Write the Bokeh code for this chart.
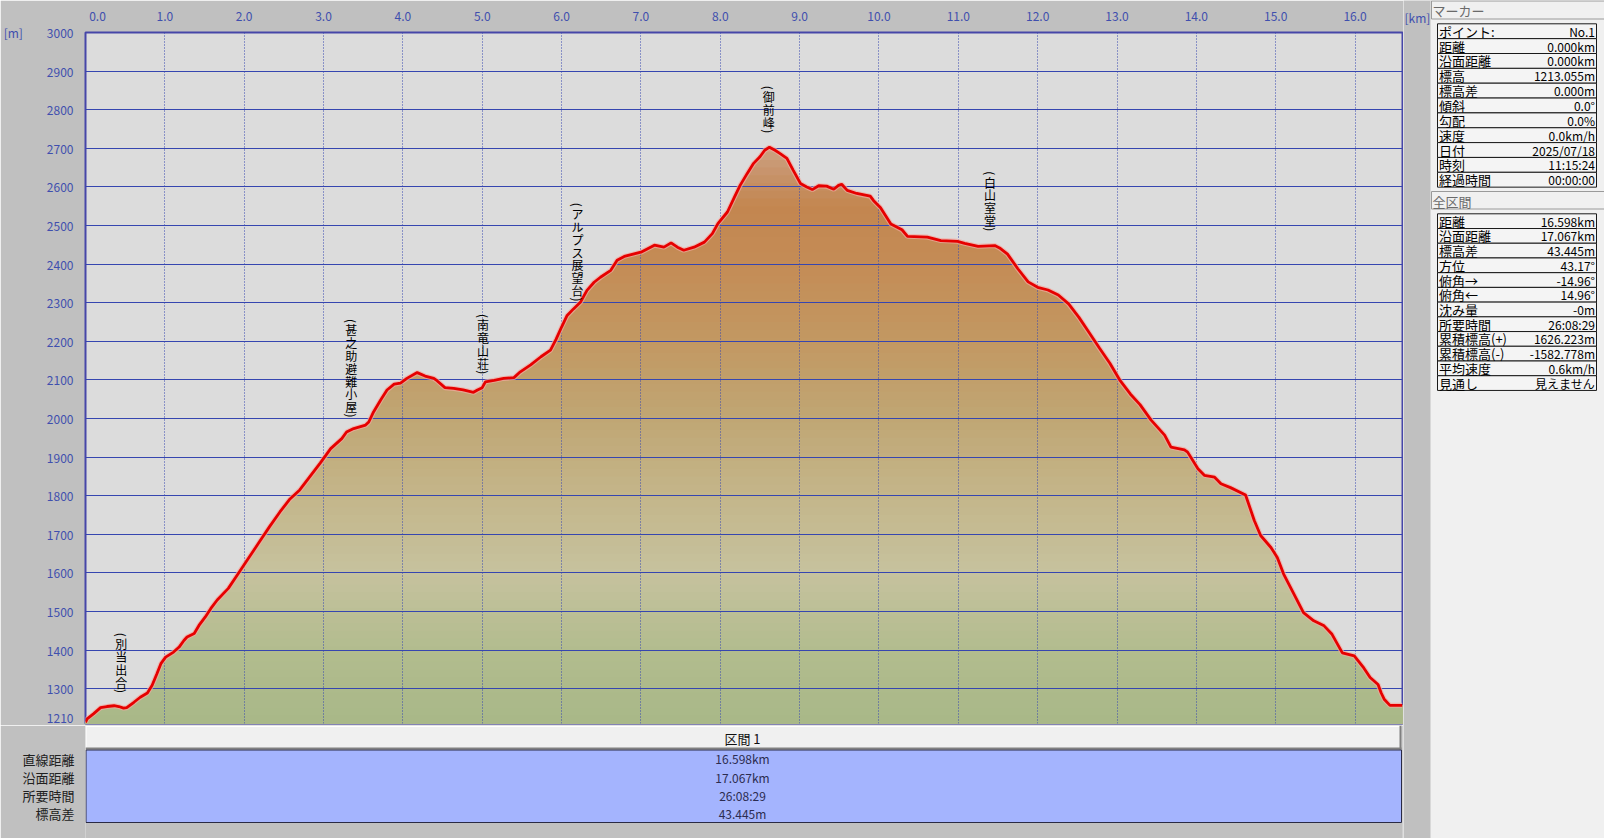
import numpy as np
from bokeh.plotting import figure
from bokeh.models import Range1d, FixedTicker, PrintfTickFormatter
from bokeh.layouts import row, column
from bokeh.embed import file_html
from bokeh.resources import INLINE
from bokeh.core.properties import value

# ---------------- data ----------------
dist_km = [0.00, 0.02, 0.10, 0.19, 0.27, 0.36, 0.42, 0.48, 0.52, 0.61, 0.69, 0.78, 0.84, 0.90,
           0.95, 1.01, 1.11, 1.18, 1.24, 1.28, 1.37, 1.43, 1.51, 1.58, 1.66, 1.80, 1.93, 2.06,
           2.19, 2.32, 2.45, 2.57, 2.70, 2.83, 2.96, 3.09, 3.23, 3.29, 3.38, 3.53, 3.57, 3.63,
           3.72, 3.80, 3.89, 3.97, 4.05, 4.18, 4.28, 4.39, 4.43, 4.53, 4.64, 4.76, 4.89, 4.94,
           5.00, 5.04, 5.15, 5.27, 5.40, 5.48, 5.61, 5.74, 5.86, 5.93, 6.00, 6.07, 6.15, 6.24,
           6.32, 6.41, 6.49, 6.62, 6.70, 6.79, 7.00, 7.17, 7.29, 7.38, 7.46, 7.54, 7.67, 7.80,
           7.90, 7.97, 8.09, 8.18, 8.25, 8.34, 8.42, 8.50, 8.56, 8.62, 8.69, 8.75, 8.84, 8.92,
           9.01, 9.09, 9.16, 9.24, 9.34, 9.43, 9.49, 9.53, 9.60, 9.72, 9.89, 9.93, 10.02, 10.15,
           10.29, 10.36, 10.61, 10.78, 10.99, 11.08, 11.25, 11.46, 11.52, 11.62, 11.75, 11.88,
           12.00, 12.13, 12.26, 12.39, 12.52, 12.65, 12.78, 12.91, 13.04, 13.17, 13.29, 13.43,
           13.60, 13.68, 13.85, 13.89, 14.02, 14.10, 14.23, 14.31, 14.43, 14.62, 14.73, 14.81,
           14.94, 15.02, 15.10, 15.23, 15.35, 15.48, 15.61, 15.71, 15.84, 15.99, 16.11, 16.19,
           16.29, 16.33, 16.37, 16.44, 16.598]
elev_m = [1213, 1222, 1235, 1251, 1254, 1256, 1254, 1250, 1251, 1265, 1278, 1289, 1309, 1339,
          1365, 1382, 1395, 1408, 1425, 1434, 1443, 1464, 1486, 1508, 1530, 1560, 1600, 1640,
          1680, 1720, 1758, 1790, 1815, 1850, 1885, 1922, 1948, 1965, 1974, 1983, 1991, 2017,
          2048, 2074, 2089, 2092, 2104, 2119, 2110, 2104, 2098, 2080, 2078, 2074, 2068, 2074,
          2080, 2095, 2099, 2104, 2106, 2121, 2139, 2160, 2177, 2205, 2237, 2267, 2284, 2302,
          2332, 2353, 2366, 2384, 2410, 2420, 2431, 2449, 2444, 2455, 2444, 2436, 2444, 2457,
          2479, 2505, 2535, 2574, 2604, 2635, 2661, 2678, 2695, 2703, 2695, 2687, 2674, 2643,
          2609, 2600, 2593, 2603, 2602, 2594, 2604, 2607, 2591, 2583, 2576, 2565, 2546, 2504,
          2489, 2472, 2470, 2461, 2459, 2454, 2446, 2448, 2442, 2426, 2388, 2354,
          2340, 2333, 2320, 2297, 2262, 2222, 2182, 2143, 2098, 2063, 2036, 1996,
          1957, 1926, 1919, 1913, 1870, 1853, 1848, 1831, 1821, 1802, 1736, 1697,
          1666, 1640, 1597, 1545, 1497, 1476, 1463, 1441, 1393, 1385, 1354, 1329,
          1311, 1289, 1272, 1257, 1257]

place_names = ["別当出合", "甚之助避難小屋", "南竜山荘", "アルプス展望台", "御前峰", "白山室堂"]
place_km = [0.45, 3.35, 5.01, 6.20, 8.61, 11.40]
place_top_m = [1446, 2259, 2272, 2560, 2863, 2642]

x_ticks = [0, 1, 2, 3, 4, 5, 6, 7, 8, 9, 10, 11, 12, 13, 14, 15, 16]
y_ticks = [1210, 1300, 1400, 1500, 1600, 1700, 1800, 1900, 2000, 2100, 2200, 2300, 2400,
           2500, 2600, 2700, 2800, 2900, 3000]
x_unit = "[km]"
y_unit = "[m]"

marker_labels = ["ポイント:", "距離", "沿面距離", "標高", "標高差", "傾斜", "勾配", "速度",
                 "日付", "時刻", "経過時間"]
marker_values = ["No.1", "0.000km", "0.000km", "1213.055m", "0.000m", "0.0°", "0.0%",
                 "0.0km/h", "2025/07/18", "11:15:24", "00:00:00"]
total_labels = ["距離", "沿面距離", "標高差", "方位", "俯角→", "俯角←", "沈み量", "所要時間",
                "累積標高(+)", "累積標高(-)", "平均速度", "見通し"]
total_values = ["16.598km", "17.067km", "43.445m", "43.17°", "-14.96°", "14.96°", "-0m",
                "26:08:29", "1626.223m", "-1582.778m", "0.6km/h", "見えません"]

section_title = "区間 1"
section_labels = ["直線距離", "沿面距離", "所要時間", "標高差"]
section_values = ["16.598km", "17.067km", "26:08:29", "43.445m"]

# ---------------- style ----------------
JP = "Noto Sans CJK JP"
BLUE_TXT = "#3f4fae"
GRID = "#3646b0"
IS = "\u3000"  # ideographic space used as padding

grad_m = [1210, 1400, 1600, 1800, 2000, 2200, 2400, 2550, 2650, 2720]
grad_rgb = [(168, 184, 136), (178, 188, 142), (198, 194, 158), (196, 182, 138),
            (192, 166, 116), (194, 152, 98), (196, 140, 86), (195, 134, 80),
            (200, 150, 112), (208, 168, 140)]


def grad_color(m):
    r = np.interp(m, grad_m, [c[0] for c in grad_rgb])
    g = np.interp(m, grad_m, [c[1] for c in grad_rgb])
    b = np.interp(m, grad_m, [c[2] for c in grad_rgb])
    return "#%02x%02x%02x" % (int(round(r)), int(round(g)), int(round(b)))


MAIN_W, MAIN_H = 1403, 725
BL, BR = 85, 1

# ---------------- main chart ----------------
p = figure(width=MAIN_W, height=MAIN_H, x_range=Range1d(0, 16.598), y_range=Range1d(1210, 3000),
           x_axis_location="above", toolbar_location=None, output_backend="svg",
           min_border_left=BL, min_border_right=BR, min_border_top=32, min_border_bottom=2,
           background_fill_color="#dcdcdc", border_fill_color="#c0c0c0",
           outline_line_color="#4646a8", outline_line_width=2)

p.xaxis.ticker = FixedTicker(ticks=x_ticks)
p.xaxis.formatter = PrintfTickFormatter(format="%.1f")
p.xaxis.major_label_overrides = {0: IS * 2 + "0.0"}
p.yaxis.ticker = FixedTicker(ticks=y_ticks)
p.yaxis.major_label_overrides = {3000: y_unit + IS * 2 + "3000"}
for ax in (p.xaxis[0], p.yaxis[0]):
    ax.axis_line_color = None
    ax.major_tick_line_color = None
    ax.minor_tick_line_color = None
    ax.major_tick_out = 0
    ax.major_tick_in = 0
    ax.major_label_text_color = BLUE_TXT
    ax.major_label_text_font = JP
    ax.major_label_text_font_size = "12px"
p.xaxis.major_label_standoff = 9
p.yaxis.major_label_standoff = 12

p.xgrid.ticker = FixedTicker(ticks=x_ticks)
p.xgrid.grid_line_color = GRID
p.xgrid.grid_line_dash = "1 2"
p.xgrid.grid_line_width = 1
p.ygrid.ticker = FixedTicker(ticks=y_ticks)
p.ygrid.grid_line_color = GRID
p.ygrid.grid_line_width = 1

x = np.array(dist_km, dtype=float)
e = np.array(elev_m, dtype=float)
base = np.full_like(e, 1210.0)
band_tops = np.arange(1230, 2760, 20)
for top in band_tops[::-1]:
    p.varea(x=x, y1=base, y2=np.minimum(e, top), fill_color=grad_color(top - 10),
            fill_alpha=1.0, level="underlay")

p.line(x, e, line_color="#f2aaa0", line_width=5, line_alpha=0.7)
p.line(x, e, line_color="#e60000", line_width=2.8)

# vertical place labels: rotated brackets around stacked upright characters
PITCH = 12.8
PAD = 5.0
cx, cy, ct, co = [], [], [], []
bx, by, bt, bo = [], [], [], []
for km, top_m, name in zip(place_km, place_top_m, place_names):
    bx.append(km); by.append(top_m); bt.append("("); bo.append(2.5)
    for k, ch in enumerate(name):
        cx.append(km); cy.append(top_m); ct.append(ch); co.append(PAD + PITCH * (k + 0.5))
    bx.append(km); by.append(top_m); bt.append(")"); bo.append(PAD + PITCH * len(name) + 2.5)

p.text(x=cx, y=cy, text=ct, y_offset=co, text_align="center", text_baseline="middle",
       text_font=value(JP), text_font_size="12px", text_color="#000000")
p.text(x=bx, y=by, text=bt, y_offset=bo, angle=-np.pi / 2, text_align="center",
       text_baseline="middle", text_font=value(JP), text_font_size="12px", text_color="#000000")

# ---------------- section table (below) ----------------
t = figure(width=MAIN_W, height=113, x_range=Range1d(85, 1402), y_range=Range1d(838, 725),
           toolbar_location=None, output_backend="svg",
           min_border_left=BL, min_border_right=BR, min_border_top=0, min_border_bottom=0,
           x_axis_location=None, y_axis_location="left",
           background_fill_color="#c0c0c0", border_fill_color="#c0c0c0", outline_line_color=None)
t.grid.visible = False
row_y = [759, 777, 795, 813]
t.yaxis.ticker = FixedTicker(ticks=row_y)
t.yaxis.major_label_overrides = dict(zip(row_y, section_labels))
t.yaxis.axis_line_color = None
t.yaxis.major_tick_line_color = None
t.yaxis.minor_tick_line_color = None
t.yaxis.major_tick_out = 0
t.yaxis.major_tick_in = 0
t.yaxis.major_label_standoff = 11
t.yaxis.major_label_text_font = JP
t.yaxis.major_label_text_font_size = "13px"
t.yaxis.major_label_text_color = "#202020"

t.quad(left=[85], right=[1401], top=[725], bottom=[749], fill_color="#f0f0f0", line_color=None)
t.segment(x0=[85, 85.5], y0=[726, 725], x1=[1401, 85.5], y1=[726, 749], line_color="#ffffff",
          line_width=1)
t.segment(x0=[85, 1400], y0=[748, 725], x1=[1401, 1400], y1=[748, 749], line_color="#808080",
          line_width=2)
t.quad(left=[85.5], right=[1401], top=[749.5], bottom=[822], fill_color="#a4b4fe",
       line_color="#2a2a44", line_width=1)
t.text(x=[742], y=[737.5], text=[section_title], text_align="center", text_baseline="middle",
       text_font=value(JP), text_font_size="13px", text_color="#101010")
t.text(x=[742] * 4, y=[758, 776.5, 794.5, 812.5], text=section_values, text_align="center",
       text_baseline="middle", text_font=value(JP), text_font_size="12px", text_color="#2c2c50")

# ---------------- side panel ----------------
s = figure(width=1604 - MAIN_W, height=838, x_range=Range1d(MAIN_W, 1604), y_range=Range1d(838, 0),
           toolbar_location=None, output_backend="svg", min_border=0,
           x_axis_location=None, y_axis_location=None,
           background_fill_color="#c0c0c0", border_fill_color="#c0c0c0", outline_line_color=None)
s.grid.visible = False
s.quad(left=[1430], right=[1605], top=[0], bottom=[839], fill_color="#f0f0f0", line_color=None)
s.text(x=[1404], y=[17], text=[x_unit], text_align="left", text_baseline="middle",
       text_font=value(JP), text_font_size="12px", text_color=BLUE_TXT)

s.quad(left=[1431, 1431], right=[1604, 1604], top=[0.5, 191], bottom=[18.5, 208.5],
       fill_color="#f0f0f0", line_color="#9a9a9a", line_width=1)
s.text(x=[1432, 1432], y=[10, 201], text=["マーカー", "全区間"], text_align="left",
       text_baseline="middle", text_font=value(JP), text_font_size="13px", text_color="#6a6a6a")

h1 = 14.85
top1 = [23.3 + i * h1 for i in range(len(marker_labels))]
s.quad(left=1437, right=1596, top=top1, bottom=[v + h1 for v in top1],
       fill_color="#f4f4f4", line_color="#1a1a1a", line_width=1)
s.text(x=[1438.5] * len(top1), y=[v + h1 / 2 for v in top1], text=marker_labels,
       text_align="left", text_baseline="middle", text_font=value(JP), text_font_size="13px",
       text_color="#000000")
s.text(x=[1594.5] * len(top1), y=[v + h1 / 2 for v in top1], text=marker_values,
       text_align="right", text_baseline="middle", text_font=value(JP), text_font_size="12px",
       text_color="#000000")

h2 = 14.72
top2 = [213.3 + i * h2 for i in range(len(total_labels))]
s.quad(left=1437, right=1596, top=top2, bottom=[v + h2 for v in top2],
       fill_color="#f4f4f4", line_color="#1a1a1a", line_width=1)
s.text(x=[1438.5] * len(top2), y=[v + h2 / 2 for v in top2], text=total_labels,
       text_align="left", text_baseline="middle", text_font=value(JP), text_font_size="13px",
       text_color="#000000")
s.text(x=[1594.5] * len(top2), y=[v + h2 / 2 for v in top2], text=total_values,
       text_align="right", text_baseline="middle", text_font=value(JP), text_font_size="12px",
       text_color="#000000")

layout = row(column(p, t), s)
open("out.html", "w").write(file_html(layout, INLINE))
